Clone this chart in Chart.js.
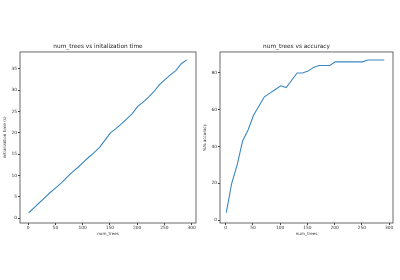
<!DOCTYPE html>
<html>
<head>
<meta charset="utf-8">
<script src="https://cdn.jsdelivr.net/npm/chart.js@4"></script>
<style>
  body { margin: 0; background: #fff; }
  .wrap { position: absolute; top: 0; width: 200px; height: 280px; }
  #left { left: 0; }
  #right { left: 200px; }
</style>
</head>
<body>
<div class="wrap" id="left"><canvas id="timeChart" width="200" height="280"></canvas></div>
<div class="wrap" id="right"><canvas id="accChart" width="200" height="280"></canvas></div>
<script>
// 数据
const numTrees = [1, 11, 21, 31, 41, 51, 61, 71, 81, 91, 101, 111, 121, 131, 141,
    151, 161, 171, 181, 191, 201, 211, 221, 231, 241, 251, 261, 271, 281, 291];
const initTime = [1.3, 2.5, 3.7, 4.9, 6.1, 7.2, 8.3, 9.6, 10.8, 11.9, 13.1, 14.3, 15.4, 16.6, 18.3,
    20.0, 21.0, 22.1, 23.3, 24.5, 26.2, 27.2, 28.4, 29.7, 31.3, 32.5, 33.6, 34.6, 36.2, 37.1];
const accuracy = [4, 20, 30, 43, 49, 57, 62, 67, 69, 71, 73, 72, 76, 80, 80,
    81, 83, 84, 84, 84, 86, 86, 86, 86, 86, 86, 87, 87, 87, 87];
const xTicks = [0, 50, 100, 150, 200, 250, 300];
const timeTicks = [0, 5, 10, 15, 20, 25, 30, 35];
const accTicks = [0, 20, 40, 60, 80];

const FONT = 'DejaVu Sans';

// 边框 (四边)
const boxPlugin = {
    id: 'box',
    afterDraw(chart) {
        const a = chart.chartArea;
        const ctx = chart.ctx;
        ctx.save();
        ctx.strokeStyle = '#444';
        ctx.lineWidth = 0.8;
        ctx.strokeRect(a.left, a.top, a.right - a.left, a.bottom - a.top);
        ctx.restore();
    }
};

function makeChart(id, values, yTicks, xRange, yRange, titleText, yLabel, padRight) {
    const ctx = document.getElementById(id);
    return new Chart(ctx, {
        type: 'line',
        data: {
            datasets: [{
                data: numTrees.map((x, i) => ({x: x, y: values[i]})),
                borderColor: '#3a87c0',
                borderWidth: 1.1,
                pointRadius: 0,
                tension: 0,
                fill: false
            }]
        },
        options: {
            responsive: false,
            animation: false,
            layout: { padding: { left: 0, right: padRight, top: 0, bottom: 44 } },
            plugins: {
                legend: { display: false },
                tooltip: { enabled: false },
                title: {
                    display: true,
                    text: titleText,
                    color: '#222',
                    font: { family: FONT, size: 5.8, weight: 'normal' },
                    padding: { top: 43, bottom: 2 }
                }
            },
            scales: {
                x: {
                    type: 'linear',
                    min: xRange[0],
                    max: xRange[1],
                    afterBuildTicks: s => { s.ticks = xTicks.map(v => ({value: v})); },
                    afterFit: s => { s.height = 13; },
                    grid: { drawOnChartArea: false, drawTicks: true, tickLength: 2, color: '#444' },
                    border: { display: false },
                    ticks: { color: '#333', font: { family: FONT, size: 4.4 }, padding: 0.5, maxRotation: 0 },
                    title: {
                        display: true, text: 'num_trees', color: '#333',
                        font: { family: FONT, size: 4.1 }, padding: 0
                    }
                },
                y: {
                    min: yRange[0],
                    max: yRange[1],
                    afterBuildTicks: s => { s.ticks = yTicks.map(v => ({value: v})); },
                    afterFit: s => { s.width = 20; },
                    grid: { drawOnChartArea: false, drawTicks: true, tickLength: 2, color: '#444' },
                    border: { display: false },
                    ticks: { color: '#333', font: { family: FONT, size: 4.4 }, padding: 1 },
                    title: {
                        display: true, text: yLabel, color: '#333',
                        font: { family: FONT, size: 4.1 }, padding: { top: 2.5, bottom: 0 }
                    }
                }
            }
        },
        plugins: [boxPlugin]
    });
}

makeChart('timeChart', initTime, timeTicks, [-15, 308], [-1.1, 38.96],
    'num_trees vs initalization time', 'initialization time (s)', 4);
makeChart('accChart', accuracy, accTicks, [-10.5, 307], [-1.6, 91.4],
    'num_trees vs accuracy', '%% accuracy', 7);
</script>
</body>
</html>
